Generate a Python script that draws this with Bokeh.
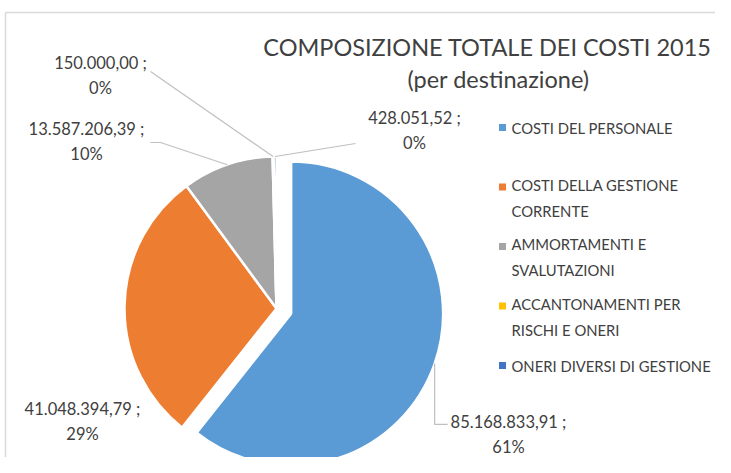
import math
from bokeh.plotting import figure
from bokeh.models import Range1d, ColumnDataSource
from bokeh.core.properties import value
from bokeh.embed import file_html
from bokeh.resources import INLINE

# ---------------- data ----------------
categories = [
    "COSTI DEL PERSONALE",
    "COSTI DELLA GESTIONE CORRENTE",
    "AMMORTAMENTI E SVALUTAZIONI",
    "ACCANTONAMENTI PER RISCHI E ONERI",
    "ONERI DIVERSI DI GESTIONE",
]
legend_labels = [
    "COSTI DEL PERSONALE",
    "COSTI DELLA GESTIONE\nCORRENTE",
    "AMMORTAMENTI E\nSVALUTAZIONI",
    "ACCANTONAMENTI PER\nRISCHI E ONERI",
    "ONERI DIVERSI DI GESTIONE",
]
values = [85168833.91, 41048394.79, 13587206.39, 150000.00, 428051.52]
colors = ["#5B9BD5", "#ED7D31", "#A5A5A5", "#FFC000", "#4472C4"]
title_lines = ["COMPOSIZIONE TOTALE DEI COSTI 2015", "(per destinazione)"]

# ---------------- layout ----------------
W, H = 715, 457
REF_H = 473
FONT = "Lato"
TXT = "#404040"


def Y(y):
    return REF_H - y


p = figure(width=W, height=H,
           x_range=Range1d(0, W), y_range=Range1d(REF_H - H, REF_H),
           x_axis_location=None, y_axis_location=None, toolbar_location=None,
           output_backend="svg", min_border=0, outline_line_color=None,
           background_fill_color="white", border_fill_color="white")
p.grid.visible = False

# chart area border (faint)
p.line([5, W], [Y(12), Y(12)], line_color="#D9D9D9", line_width=1.5)
p.line([5, 5], [Y(12), Y(H)], line_color="#D9D9D9", line_width=1.5)

# pie geometry
cx, cy = 276.0, Y(308)
R = 152.0
explode = [15.5, 0, 0, 0, 0]

total = sum(values)
fracs = [v / total for v in values]
cum = [0.0]
for f in fracs:
    cum.append(cum[-1] + f)

starts, ends, xs, ys, mids = [], [], [], [], []
for i, f in enumerate(fracs):
    a0 = math.pi / 2 - 2 * math.pi * cum[i + 1]
    a1 = math.pi / 2 - 2 * math.pi * cum[i]
    mid = (a0 + a1) / 2
    starts.append(a0)
    ends.append(a1)
    mids.append(mid)
    xs.append(cx + explode[i] * math.cos(mid))
    ys.append(cy + explode[i] * math.sin(mid))

src = ColumnDataSource(dict(x=xs, y=ys, start=starts, end=ends, color=colors, cat=categories, val=values))
p.wedge(x="x", y="y", radius=R, start_angle="start", end_angle="end", fill_color="color",
        line_color="white", line_width=2.5, source=src)


def it_fmt(v):
    s = f"{v:,.2f}"
    return s.replace(",", "X").replace(".", ",").replace("X", ".")


label_texts = [f"{it_fmt(v)} ;\n{round(f * 100):.0f}%" for v, f in zip(values, fracs)]

# label anchor positions (centre of the two-line block, reference pixels)
LBL_LH = 1.22
LBL_FS = 16.5
label_pos = [(508, 434), (82, 421), (86, 141), (100, 75), (414, 130)]
lx = [a for a, b in label_pos]
ly = [Y(b) for a, b in label_pos]
p.text(x=lx, y=ly, text=label_texts, text_align="center", text_baseline="middle",
       text_font=value(FONT), text_font_size=f"{LBL_FS}px", text_color=TXT, text_line_height=LBL_LH)


# leader lines from the slice arcs to the labels
def arc_pt(i):
    return (xs[i] + R * math.cos(mids[i]), ys[i] + R * math.sin(mids[i]))


b = arc_pt(0)
g = arc_pt(2)
yl = arc_pt(3)
dk = arc_pt(4)
b_line_y = label_pos[0][1] - LBL_FS * LBL_LH / 2
lead_x = [
    [b[0], b[0], b[0] + 13],
    [150, 160, g[0]],
    [150, yl[0]],
    [dk[0], 355],
]
lead_y = [
    [b[1], Y(b_line_y), Y(b_line_y)],
    [Y(142), Y(142), g[1]],
    [Y(71), yl[1]],
    [dk[1], Y(143)],
]
p.multi_line(xs=lead_x, ys=lead_y, line_color="#BFBFBF", line_width=1.2)

# title
p.text(x=[487, 498], y=[Y(46), Y(78)], text=title_lines, text_align="center", text_baseline="middle",
       text_font=value(FONT), text_font_size="23.5px", text_color=TXT)

# legend
leg_x = 502
leg_first = [127 + i * 59.5 for i in range(len(categories))]
lh = 21.5
LEG_FS = 14.8
p.scatter(x=[leg_x] * len(categories), y=[Y(v) for v in leg_first], marker="square", size=7,
          fill_color=colors, line_color=None)
leg_y = [Y(v + (lab.count("\n")) * lh / 2) for v, lab in zip(leg_first, legend_labels)]
p.text(x=[leg_x + 9] * len(categories), y=leg_y, text=legend_labels, text_align="left",
       text_baseline="middle", text_font=value(FONT), text_font_size=f"{LEG_FS}px", text_color=TXT,
       text_line_height=lh / LEG_FS)

open("out.html", "w").write(file_html(p, INLINE))
